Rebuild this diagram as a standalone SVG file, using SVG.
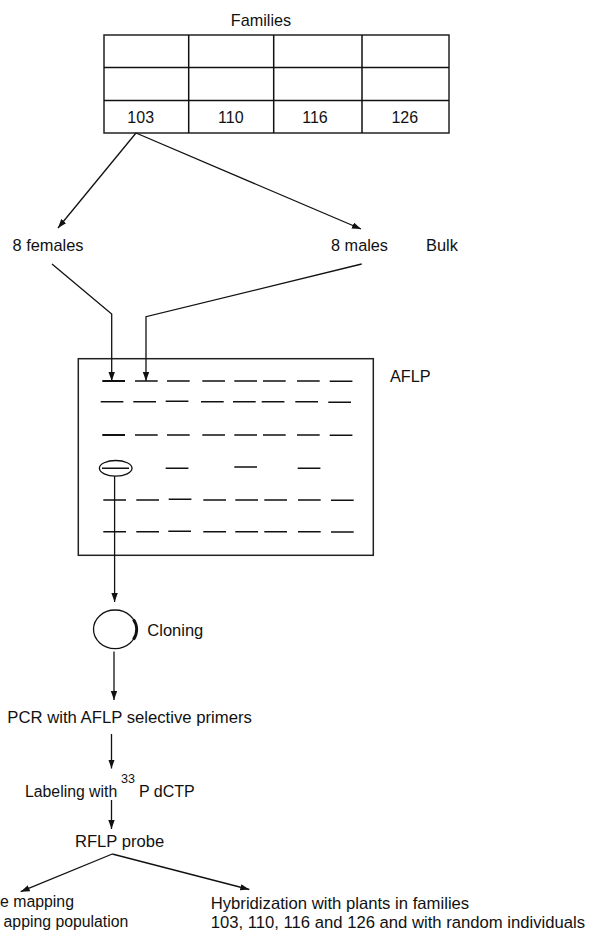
<svg xmlns="http://www.w3.org/2000/svg" width="591" height="933" viewBox="0 0 591 933">
<style>
text{font-family:"Liberation Sans",Arial,sans-serif;font-size:16.4px;fill:#111}
.ln{stroke:#111;stroke-width:1.3;fill:none}
.tb{stroke:#222;stroke-width:1.5;fill:#fff}
.band{stroke:#111;stroke-width:1.5}
.thick{stroke:#111;stroke-width:2.2}
.mid{text-anchor:middle}
.end{text-anchor:end}
</style>
<defs>
<marker id="ah" markerUnits="userSpaceOnUse" markerWidth="9" markerHeight="7" refX="9" refY="3.2" orient="auto">
<path d="M0,0 L9,3.2 L0,6.4 z" fill="#111"/>
</marker>
</defs>

<g id="families">
<text x="261" y="26" class="mid" style="font-size:16.2px">Families</text>
<rect class="tb" x="104" y="35" width="345" height="98"/>
<path class="ln" style="stroke-width:1.5" d="M104,67.5 H449 M104,100.5 H449 M188.7,35 V133 M273.7,35 V133 M362,35 V133"/>
<text x="140.7" y="123.3" class="mid" style="font-size:16px">103</text>
<text x="230.8" y="123.3" class="mid" style="font-size:16px">110</text>
<text x="315" y="123.3" class="mid" style="font-size:16px">116</text>
<text x="404.8" y="123.3" class="mid" style="font-size:16px">126</text>
</g>

<g id="females"><text x="12.5" y="251">8 females</text></g>
<g id="males"><text x="331" y="251" style="font-size:16.3px">8 males</text></g>
<g id="bulk"><text x="426" y="251">Bulk</text></g>

<g id="gel">
<rect x="78.3" y="358.7" width="295" height="196.6" fill="none" stroke="#222" stroke-width="1.5"/>
<text x="390" y="382" style="font-size:16.3px">AFLP</text>
<path class="thick" d="M102.3,381 h22.7 M102.3,435 h22.7"/>
<path class="band" d="M135,381 h22.7 M167,381 h22.7 M202.3,381 h22.7 M234.3,381 h22.7 M263,381 h22.7 M297,381 h22.7 M329.7,381.3 h22.7"/>
<path class="band" d="M100.7,401.7 h22.7 M133.3,401.7 h22.7 M165.7,401.3 h22.7 M201,401.7 h22.7 M233,401.7 h22.7 M261.7,401.7 h22.7 M295.3,401.7 h22.7 M328.3,402.3 h22.7"/>
<path class="band" d="M135,435 h22.7 M167,435 h22.7 M202.3,435 h22.7 M234.3,435 h22.7 M263,435 h22.7 M297,435 h22.7 M329.7,435.3 h22.7"/>
<ellipse cx="115.7" cy="468.3" rx="16.3" ry="7.8" fill="none" stroke="#111" stroke-width="1.3"/>
<path class="band" d="M102,468.3 h27 M165.7,468.3 h22.7 M234.3,467 h22.7 M297.7,468.3 h22.7"/>
<path class="band" d="M103.3,500 h22.7 M136.3,500 h22.7 M168.7,499.3 h22.7 M203.3,500 h22.7 M235.3,500 h22.7 M264.3,500 h22.7 M298,500 h22.7 M331,500.3 h22.7"/>
<path class="band" d="M103.3,531.7 h22.7 M136.3,531.7 h22.7 M168.3,531.3 h22.7 M203.3,531.7 h22.7 M235.3,531.7 h22.7 M264.3,531.7 h22.7 M298,531.7 h22.7 M331,532 h22.7"/>
</g>

<g id="cloning">
<ellipse cx="115" cy="629.3" rx="21.5" ry="19.3" fill="none" stroke="#111" stroke-width="1.3"/>
<path d="M133.5,619.5 A21.5 19.3 0 0 1 133.5,639.5" fill="none" stroke="#111" stroke-width="3"/>
<text x="147.3" y="636" style="font-size:16.5px">Cloning</text>
</g>

<g id="pcr"><text x="7.3" y="722.7" style="font-size:16.7px">PCR with AFLP selective primers</text></g>

<g id="labeling">
<text x="25" y="796.7" style="font-size:15.8px">Labeling with</text>
<text x="121" y="783.3" style="font-size:12.6px">33</text>
<text x="139" y="796.7" style="font-size:16px">P dCTP</text>
</g>

<g id="rflp"><text x="75" y="846.7" style="font-size:16.6px">RFLP probe</text></g>

<g id="mapping">
<text x="74" y="907.3" class="end" style="font-size:15.85px">e mapping</text>
<text x="128.3" y="926.7" class="end" style="font-size:15.8px">apping population</text>
</g>

<g id="hybridization">
<text x="210.7" y="909" style="font-size:16.68px">Hybridization with plants in families</text>
<text x="210.7" y="928" style="font-size:16.66px">103, 110, 116 and 126 and with random individuals</text>
</g>

<g id="connectors">
<path class="ln" d="M136,133 L58,228" marker-end="url(#ah)"/>
<path class="ln" d="M136,133 L361,229" marker-end="url(#ah)"/>
<path class="ln" d="M52,264 L111.7,314 V381" marker-end="url(#ah)"/>
<path class="ln" d="M361.7,264 L146,316.7 V381" marker-end="url(#ah)"/>
<path class="ln" d="M114.6,476 V602" marker-end="url(#ah)"/>
<path class="ln" d="M114,651.5 V700" marker-end="url(#ah)"/>
<path class="ln" d="M111.5,734 V768.5" marker-end="url(#ah)"/>
<path class="ln" d="M111.5,800 V829" marker-end="url(#ah)"/>
<path class="ln" d="M112.3,854 L20.7,891.7" marker-end="url(#ah)"/>
<path class="ln" d="M112.3,854 L249.3,889.5" marker-end="url(#ah)"/>
</g>
</svg>
